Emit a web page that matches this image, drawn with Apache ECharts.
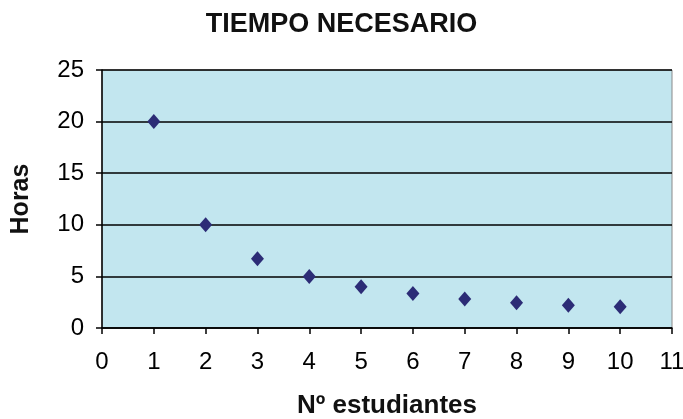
<!DOCTYPE html>
<html>
<head>
<meta charset="utf-8">
<script src="https://cdn.jsdelivr.net/npm/echarts@6/dist/echarts.min.js"></script>
<style>
  html, body { margin: 0; padding: 0; background: #ffffff; }
  #chart { width: 683px; height: 419px; }
</style>
</head>
<body>
<div id="chart"></div>
<script>
// Hours needed depending on the number of students
const students = [1, 2, 3, 4, 5, 6, 7, 8, 9, 10];
const hours = [20, 10, 6.7, 5, 4, 3.35, 2.8, 2.45, 2.2, 2.05];

const titleText = 'TIEMPO NECESARIO';
const xName = 'Nº estudiantes';
const yName = 'Horas';

const font = 'Liberation Sans, Arial, sans-serif';

const chart = echarts.init(document.getElementById('chart'), null, { renderer: 'canvas' });

chart.setOption({
  backgroundColor: '#ffffff',
  animation: false,
  title: {
    text: titleText,
    left: 'center',
    top: 6,
    textStyle: { fontFamily: font, fontSize: 27, fontWeight: 'bold', color: '#111' }
  },
  grid: {
    left: 102, right: 11, top: 70, bottom: 91,
    outerBoundsMode: 'none',
    containLabel: false,
    show: true,
    backgroundColor: '#c2e6ef',
    borderColor: '#8a8a8a',
    borderWidth: 1
  },
  xAxis: {
    type: 'value',
    min: 0, max: 11, interval: 1,
    name: xName,
    nameLocation: 'middle',
    nameGap: 65,
    nameTextStyle: { fontFamily: font, fontSize: 26, fontWeight: 'bold', color: '#111' },
    axisLine: { show: true, onZero: false, lineStyle: { color: '#000', width: 1.5 } },
    axisTick: { show: true, inside: false, length: 6, lineStyle: { color: '#000', width: 1.5 } },
    axisLabel: { fontFamily: font, fontSize: 24, color: '#000', margin: 22 },
    splitLine: { show: false }
  },
  yAxis: {
    type: 'value',
    min: 0, max: 25, interval: 5,
    name: yName,
    nameLocation: 'middle',
    nameGap: 68,
    nameRotate: 90,
    nameTextStyle: { fontFamily: font, fontSize: 25, fontWeight: 'bold', color: '#111' },
    axisLine: { show: true, lineStyle: { color: '#000', width: 1.5 } },
    axisTick: { show: true, inside: false, length: 6, lineStyle: { color: '#000', width: 1.5 } },
    axisLabel: { fontFamily: font, fontSize: 24, color: '#000', margin: 18 },
    splitLine: { show: true, lineStyle: { color: '#000', width: 1.5 } }
  },
  series: [{
    type: 'scatter',
    data: students.map((s, i) => [s, hours[i]]),
    symbol: 'diamond',
    symbolSize: [13, 15],
    itemStyle: { color: '#2c2c76', opacity: 1 }
  }]
});
</script>
</body>
</html>
